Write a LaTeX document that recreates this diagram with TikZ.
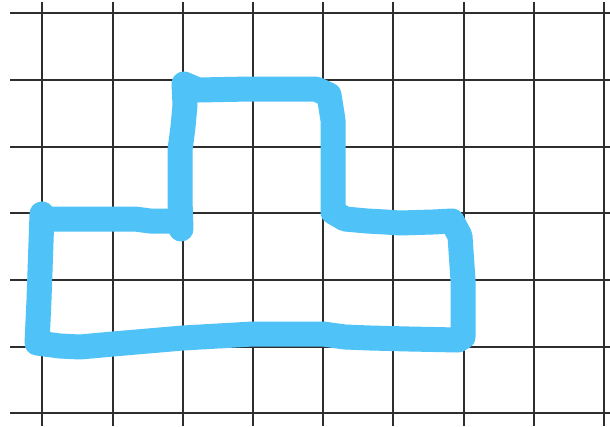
\documentclass[tikz,border=0pt]{standalone}
\usepackage{tikz}
\definecolor{pen}{HTML}{4FC3F7}
\definecolor{gridc}{HTML}{2E2E2E}
\tikzset{
  gridline/.style={draw=gridc, line width=2pt},
  penstroke/.style={draw=pen, line width=25pt, line cap=round, line join=round}
}
\begin{document}
\begin{tikzpicture}[x=1pt,y=-1pt]
\useasboundingbox (0,0) rectangle (610,426);
\fill[white] (0,0) rectangle (610,426);
% vertical grid lines
\foreach \gx in {42.3,112.5,182.7,252.9,323.1,393.3,463.5,533.7,603.9}
  \draw[gridline] (\gx,2) -- (\gx,426);
% horizontal grid lines
\foreach \gy in {13.3,80,146.7,213.3,280,346.7,413.3}
  \draw[gridline] (10,\gy) -- (610,\gy);
% hand-drawn outline
\draw[penstroke]
  (181,229) -- (180,200) -- (180,150) -- (183,127) -- (185,105) -- (184,84)
  -- (198,90) -- (250,89) -- (316,89) -- (329,95) -- (333,120) -- (333,150)
  -- (333,212) -- (345,219) -- (367,221) -- (385,222) -- (400,223)
  -- (433,222) -- (452,221) -- (460,236) -- (463,280) -- (463,337)
  -- (458,340) -- (409,339) -- (370,338) -- (345,337) -- (323,334) -- (253,334)
  -- (183,338) -- (113,344) -- (80,347) -- (60,346) -- (37,343)
  -- (39,300) -- (42,214) -- (46,219) -- (135,219) -- (150,221) -- (180,221);
\end{tikzpicture}
\end{document}
